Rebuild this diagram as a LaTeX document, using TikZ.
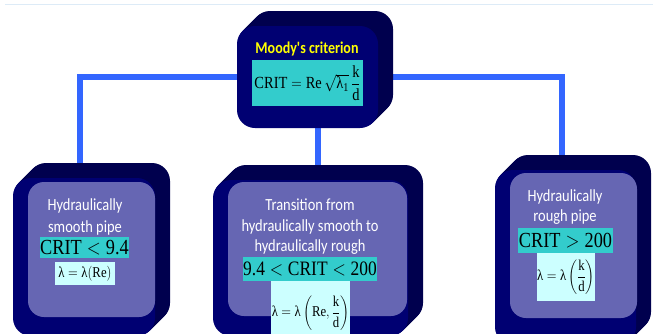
\documentclass[tikz,border=0pt]{standalone}
\usepackage{fix-cm}
\usepackage{amsmath}
\usepackage{fontspec}
\setmainfont{Liberation Serif}
\newfontfamily\calib{Carlito}
\usetikzlibrary{backgrounds}

\definecolor{linkblue}{HTML}{3366FF}
\definecolor{sidenavy}{HTML}{00004E}
\definecolor{frontnavy}{HTML}{000072}
\definecolor{faceslate}{HTML}{6666B3}
\definecolor{critteal}{HTML}{33CCCC}
\definecolor{lampale}{HTML}{CCFFFF}
\definecolor{moodyyellow}{HTML}{FFFF00}
\definecolor{rulepale}{HTML}{DDEBF7}

\newcommand{\narrow}[1]{\scalebox{.85}[1]{#1}}
% extruded block: name, centre x, centre y, width, height
\newcommand{\slab}[5]{%
  \foreach \n in {1,...,15}
    \fill[sidenavy, rounded corners=18pt] (#2-#4/2+\n,#3-#5/2-\n) rectangle ++(#4,#5);
  \node[front, minimum width=#4pt, minimum height=#5pt] (#1) at (#2,#3) {};}

\begin{document}
\begin{tikzpicture}[x=1pt, y=-1pt,
    front/.style={fill=frontnavy, rounded corners=18pt, inner sep=0pt},
    face/.style={fill=faceslate, rounded corners=16pt, inner sep=0pt},
    head/.style={text=white, font=\calib\fontsize{17}{21}\selectfont, align=center, xscale=.85},
    crit/.style={fill=critteal, inner sep=0pt, font=\fontsize{21.5}{24}\selectfont},
    lam/.style={fill=lampale, inner sep=0pt, font=\fontsize{15}{18}\selectfont},
    link/.style={draw=linkblue, line width=6pt}]
  \useasboundingbox (0,0) rectangle (653,333);
  \clip (0,0) rectangle (653,333);
  \draw[rulepale, line width=1pt] (5,4) -- (653,4);

  % criterion
  \slab{moody}{307.5}{77}{141}{102}
  \node[head, text=moodyyellow, font=\calib\bfseries\fontsize{16.5}{20}\selectfont] (moodyhead) at (307,49) {Moody's criterion};
  \node[crit, minimum width=111pt, minimum height=46pt, font=\fontsize{17}{20}\selectfont] (moodycrit) at (307.5,83)
    {\narrow{$\text{CRIT}=\text{Re}\,\sqrt{\text{λ}_{\text{1}}}\,\dfrac{\text{k}}{\text{d}}$}};

  % smooth
  \slab{smooth}{84}{257}{142}{158}
  \node[face, minimum width=127pt, minimum height=135pt] (smoothface) at (91.5,249.5) {};
  \node[head, font=\calib\fontsize{17}{22}\selectfont] (smoothhead) at (85,217) {Hydraulically\\smooth pipe};
  \node[crit, minimum width=87pt, minimum height=21pt] (smoothcrit) at (84.5,247.5) {\narrow{$\text{CRIT}<\text{9.4}$}};
  \node[lam, minimum width=60pt, minimum height=23pt] (smoothlam) at (85,273.5) {\narrow{$\text{λ}=\text{λ}(\text{Re})$}};

  % transition
  \slab{trans}{310.5}{258}{195}{156}
  \node[face, minimum width=179pt, minimum height=134pt] (transface) at (317.5,249) {};
  \node[head, font=\calib\fontsize{17}{20.5}\selectfont] (transhead) at (310,227) {Transition from\\hydraulically smooth to\\hydraulically rough};
  \node[crit, minimum width=126pt, minimum height=24pt, font=\fontsize{20.5}{24}\selectfont] (transcrit) at (310,269) {\narrow{$\text{9.4}<\text{CRIT}<\text{200}$}};
  \node[lam, minimum width=79pt, minimum height=64pt] (translam) at (310.5,313)
    {\narrow{$\text{λ}=\text{λ}\left(\text{Re},\dfrac{\text{k}}{\text{d}}\right)$}};

  % rough
  \slab{rough}{565.5}{257.5}{141}{175}
  \node[face, minimum width=127pt, minimum height=145pt] (roughface) at (573.5,245.5) {};
  \node[head, font=\calib\fontsize{17}{20}\selectfont] (roughhead) at (565,207) {Hydraulically\\rough pipe};
  \node[crit, minimum width=95pt, minimum height=25pt] (roughcrit) at (565.5,240.5) {\narrow{$\text{CRIT}>\text{200}$}};
  \node[lam, minimum width=58pt, minimum height=48pt] (roughlam) at (566,277)
    {\narrow{$\text{λ}=\text{λ}\left(\dfrac{\text{k}}{\text{d}}\right)$}};

  \begin{scope}[on background layer]
    \draw[link] (moody.center) -| ([xshift=-4pt]smooth.north);
    \draw[link] (moody.center) -| ([xshift=7.5pt]trans.north);
    \draw[link] (moody.center) -| ([xshift=-3.5pt]rough.north);
  \end{scope}
\end{tikzpicture}
\end{document}
